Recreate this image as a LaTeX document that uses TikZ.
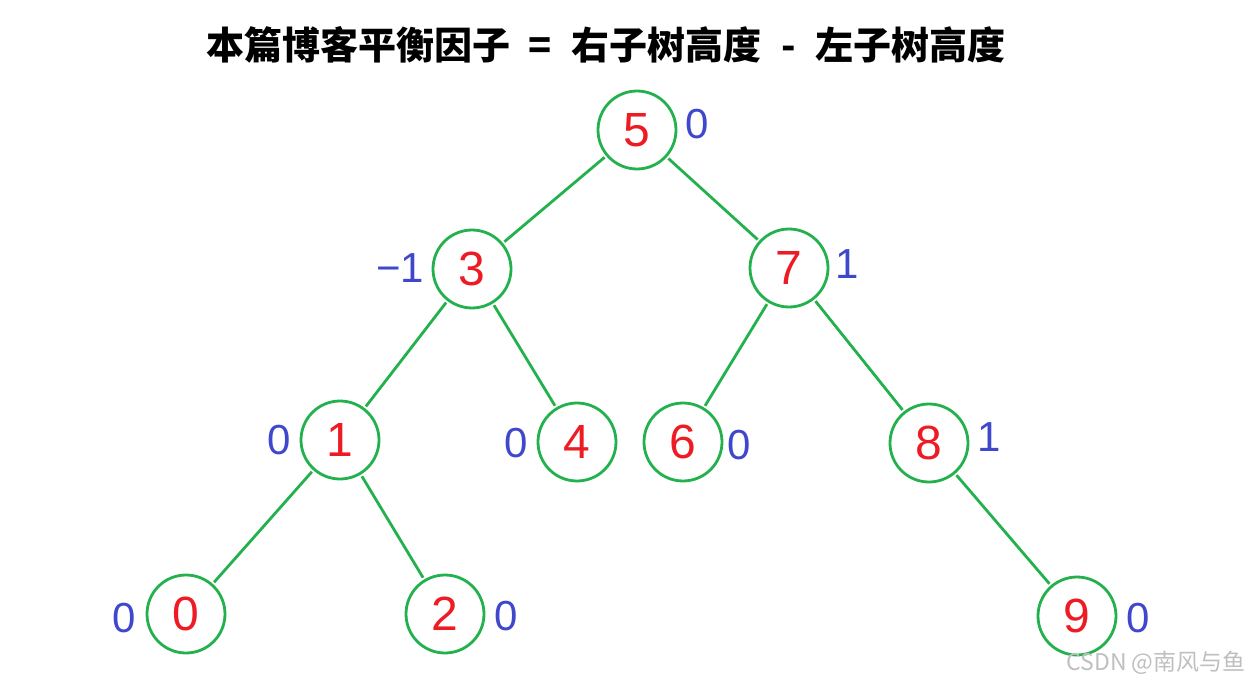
\documentclass[tikz,border=0pt]{standalone}
\usepackage{fontspec}
\setmainfont{Liberation Sans}
\newfontfamily\cjkfont{Noto Sans CJK SC}
\definecolor{treegreen}{RGB}{34,177,76}
\definecolor{keyred}{RGB}{237,28,36}
\definecolor{bfblue}{RGB}{63,72,204}

\begin{document}
\begin{tikzpicture}[
  x=0.5pt, y=-0.5pt,
  tnode/.style={
    draw=treegreen, circle, line width=1.4pt,
    minimum size=39pt, inner sep=0pt,
    font=\fontsize{24}{24}\selectfont, text=keyred
  },
  bf/.style={
    font=\fontsize{21}{21}\selectfont, text=bfblue
  },
  edge/.style={
    draw=treegreen, line width=1.4pt, shorten <=1pt, shorten >=1pt
  }
]
\useasboundingbox (0,0) rectangle (1255,685);

% Title
\node[font=\cjkfont\bfseries\fontsize{19}{19}\selectfont] (title) at (606,45)
  {本篇博客平衡因子\hspace{9pt}=\hspace{10pt}右子树高度\hspace{10pt}-\hspace{10pt}左子树高度};

% Nodes
\node[tnode] (n5) at (637,130) {5};
\node[tnode] (n3) at (472,269) {3};
\node[tnode] (n7) at (789,268) {7};
\node[tnode] (n1) at (340,440) {1};
\node[tnode] (n4) at (577,442) {4};
\node[tnode] (n6) at (683,442) {6};
\node[tnode] (n8) at (929,443) {8};
\node[tnode] (n0) at (186,614) {0};
\node[tnode] (n2) at (445,614) {2};
\node[tnode] (n9) at (1077,616) {9};

% Balance factors
\node[bf] (b5) at (697,124) {0};
\node[bf] (b3) at (400,268) {−1};
\node[bf] (b7) at (847,264) {1};
\node[bf] (b1) at (279,440) {0};
\node[bf] (b4) at (516,443) {0};
\node[bf] (b6) at (739,445) {0};
\node[bf] (b8) at (989,437) {1};
\node[bf] (b0) at (124,618) {0};
\node[bf] (b2) at (506,616) {0};
\node[bf] (b9) at (1138,618) {0};

% Edges
\draw[edge] (n5) -- (n3);
\draw[edge] (n5) -- (n7);
\draw[edge] (n3) -- (n1);
\draw[edge] (n3) -- (n4);
\draw[edge] (n7) -- (n6);
\draw[edge] (n7) -- (n8);
\draw[edge] (n1) -- (n0);
\draw[edge] (n1) -- (n2);
\draw[edge] (n8) -- (n9);

% Watermark
\node[font=\cjkfont\fontsize{11.5}{11.5}\selectfont, text=black!25] (mark) at (1156,663)
  {CSDN @南风与鱼};

\end{tikzpicture}
\end{document}
